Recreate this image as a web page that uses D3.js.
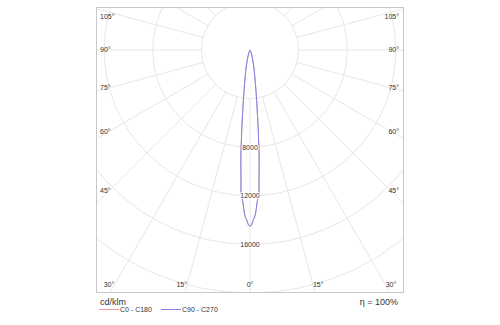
<!DOCTYPE html>
<html>
<head>
<meta charset="utf-8">
<script src="https://cdn.jsdelivr.net/npm/d3@7"></script>
<style>
  body { margin: 0; background: #fff; }
  text { font-family: "Liberation Sans", Arial, sans-serif; fill: #333; }
</style>
</head>
<body>
<div id="chart"></div>
<script>
var width = 500, height = 325;
var cx = 250, cy = 50;
var box = { x: 96.5, y: 7.5, w: 307, h: 285 };

// intensity (cd/klm) per gamma angle
var angles = [0, 0.5, 1, 1.5, 2, 2.5, 3, 3.5, 4, 5, 5.5, 6, 7, 8, 9, 10, 11, 12, 15, 20, 25, 30, 40, 50, 60, 70, 80, 90];
var c0c180 = [14500, 14400, 14050, 13800, 13400, 12750, 12250, 11900, 10650, 8600, 7350, 6400, 4750, 3700, 2900, 2300, 1950, 1600, 900, 350, 120, 40, 10, 0, 0, 0, 0, 0];
var c90c270 = [14500, 14400, 14050, 13800, 13400, 12750, 12250, 11900, 10650, 8600, 7350, 6400, 4750, 3700, 2900, 2300, 1950, 1600, 900, 350, 120, 40, 10, 0, 0, 0, 0, 0];

var rings = [4000, 8000, 12000, 16000, 20000, 24000, 28000];
var ringLabels = [8000, 12000, 16000];
var spokeAngles = d3.range(0, 181, 15);
var sideTicks = [45, 60, 75, 90, 105];
var bottomTicks = [0, 15, 30];

var svg = d3.select('#chart')
  .append('svg')
  .attr('width', width)
  .attr('height', height);

svg.append('rect').attr('width', width).attr('height', height).attr('fill', '#fff');

svg.append('clipPath').attr('id', 'frame')
  .append('rect')
  .attr('x', box.x).attr('y', box.y)
  .attr('width', box.w).attr('height', box.h);

var rScale = d3.scaleLinear().domain([0, 20000]).range([0, 243]);

var grid = svg.append('g').attr('clip-path', 'url(#frame)');

grid.selectAll('.ring')
  .data(rings)
  .enter()
  .append('circle')
  .attr('cx', cx)
  .attr('cy', cy)
  .attr('r', function (d) { return rScale(d); })
  .attr('fill', 'none')
  .attr('stroke', '#e6e6e6')
  .attr('stroke-width', 1);

// spokes on both sides, starting at the first ring
var spokes = [];
spokeAngles.forEach(function (a) {
  spokes.push(a);
  if (a != 0 && a != 180) spokes.push(-a);
});

grid.selectAll('.spoke')
  .data(spokes)
  .enter()
  .append('line')
  .attr('x1', function (d) { return cx + rScale(4000) * Math.sin(d * Math.PI / 180); })
  .attr('y1', function (d) { return cy + rScale(4000) * Math.cos(d * Math.PI / 180); })
  .attr('x2', function (d) { return cx + 600 * Math.sin(d * Math.PI / 180); })
  .attr('y2', function (d) { return cy + 600 * Math.cos(d * Math.PI / 180); })
  .attr('stroke', '#e6e6e6')
  .attr('stroke-width', 1);

svg.append('rect')
  .attr('x', box.x).attr('y', box.y)
  .attr('width', box.w).attr('height', box.h)
  .attr('fill', 'none')
  .attr('stroke', '#c8c8c8')
  .attr('stroke-width', 1);

// curves
function lobe(values) {
  var pts = [];
  for (var i = angles.length - 1; i > 0; i--) pts.push({ a: -angles[i], v: values[i] });
  for (var j = 0; j < angles.length; j++) pts.push({ a: angles[j], v: values[j] });
  return pts;
}

var radial = d3.lineRadial()
  .angle(function (d) { return Math.PI - d.a * Math.PI / 180; })
  .radius(function (d) { return rScale(d.v); })
  .curve(d3.curveCatmullRom);

var curves = svg.append('g')
  .attr('transform', 'translate(' + cx + ',' + cy + ')');

curves.append('path')
  .attr('d', radial(lobe(c0c180)))
  .attr('fill', 'none')
  .attr('stroke', '#f0a0a0')
  .attr('stroke-width', 1);

curves.append('path')
  .attr('d', radial(lobe(c90c270)))
  .attr('fill', 'none')
  .attr('stroke', '#8282ee')
  .attr('stroke-width', 1);

// ring value labels
svg.selectAll('.ringLabel')
  .data(ringLabels)
  .enter()
  .append('text')
  .attr('x', cx)
  .attr('y', function (d) { return cy + rScale(d); })
  .attr('dy', '0.35em')
  .attr('text-anchor', 'middle')
  .attr('font-size', '7px')
  .style('stroke', '#fff')
  .style('stroke-width', 2)
  .style('paint-order', 'stroke')
  .text(function (d) { return d; });

// angle labels on the sides
sideTicks.forEach(function (a) {
  var y = cy + 141 / Math.tan(a * Math.PI / 180);
  y = Math.max(y, 17);
  svg.append('text')
    .attr('x', 100).attr('y', y).attr('dy', '0.35em')
    .attr('font-size', '7px')
    .text(a + '°');
  svg.append('text')
    .attr('x', 399).attr('y', y).attr('dy', '0.35em')
    .attr('text-anchor', 'end')
    .attr('font-size', '7px')
    .text(a + '°');
});

bottomTicks.forEach(function (a) {
  var dx = 235 * Math.tan(a * Math.PI / 180);
  if (a == 0) {
    svg.append('text')
      .attr('x', cx).attr('y', 285).attr('dy', '0.35em')
      .attr('text-anchor', 'middle')
      .attr('font-size', '7px')
      .text('0°');
    return;
  }
  svg.append('text')
    .attr('x', cx + dx).attr('y', 285).attr('dy', '0.35em')
    .attr('font-size', '7px')
    .text(a + '°');
  svg.append('text')
    .attr('x', cx - dx).attr('y', 285).attr('dy', '0.35em')
    .attr('text-anchor', 'end')
    .attr('font-size', '7px')
    .text(a + '°');
});

// legend
svg.append('text')
  .attr('x', 100).attr('y', 305)
  .attr('font-size', '9px')
  .text('cd/klm');

svg.append('text')
  .attr('x', 398).attr('y', 305)
  .attr('text-anchor', 'end')
  .attr('font-size', '9px')
  .text('η = 100%');

var legend = [
  { name: 'C0 - C180', color: '#f0a0a0', x: 99 },
  { name: 'C90 - C270', color: '#8282ee', x: 161 }
];

legend.forEach(function (l) {
  svg.append('line')
    .attr('x1', l.x).attr('x2', l.x + 20)
    .attr('y1', 309.5).attr('y2', 309.5)
    .attr('stroke', l.color)
    .attr('stroke-width', 1);
  svg.append('text')
    .attr('x', l.x + 21).attr('y', 310).attr('dy', '0.35em')
    .attr('font-size', '7px')
    .text(l.name);
});
</script>
</body>
</html>
